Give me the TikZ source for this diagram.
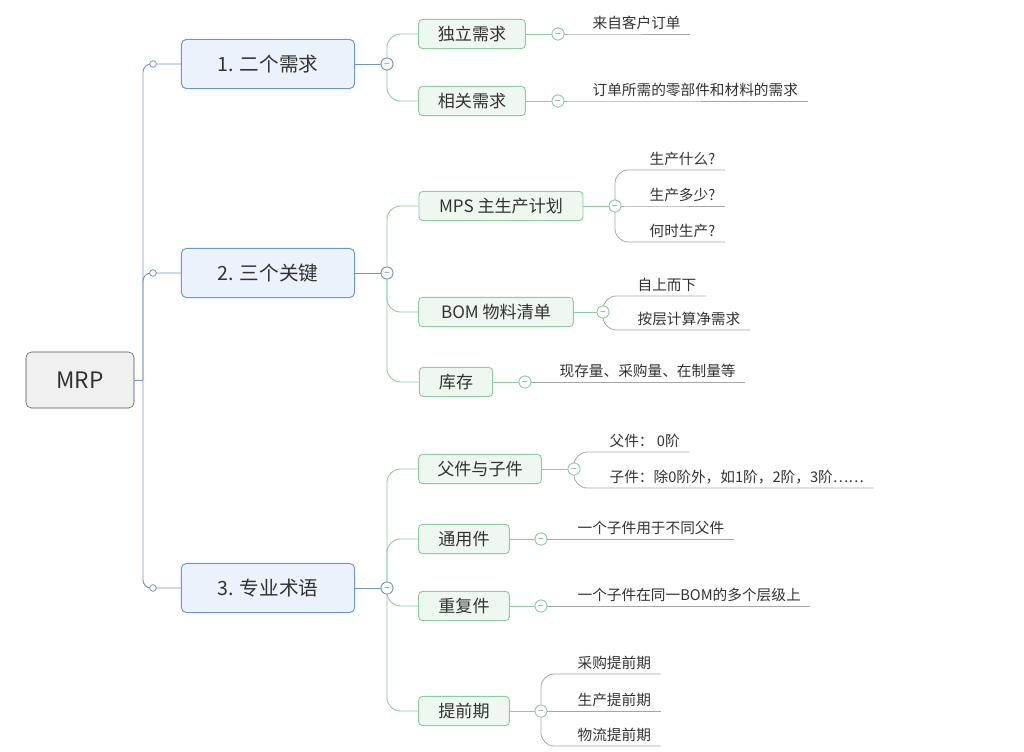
\documentclass[tikz,border=0pt]{standalone}
\usepackage{fontspec}
\setmainfont{Noto Sans CJK SC}
\definecolor{bline}{RGB}{110,150,200}
\definecolor{bfill}{RGB}{236,242,251}
\definecolor{gline}{RGB}{140,205,160}
\definecolor{gfill}{RGB}{238,247,240}
\definecolor{tx}{RGB}{50,50,50}
\begin{document}
\begin{tikzpicture}[x=0.75pt,y=-0.75pt,
  root/.style={draw=black!70,fill=black!6,rounded corners=4,minimum width=81pt,minimum height=42pt,font=\fontsize{17}{20}\selectfont,text=tx},
  l1/.style={draw=bline,fill=bfill,rounded corners=4,minimum width=130pt,minimum height=37pt,font=\fontsize{14.7}{17}\selectfont,text=tx,line width=0.7pt},
  l2/.style={draw=gline,fill=gfill,rounded corners=3,minimum height=22pt,inner xsep=10pt,font=\fontsize{12.8}{15}\selectfont,text=tx,line width=0.7pt},
  leaf/.style={anchor=south west,inner xsep=7pt,inner ysep=3pt,font=\fontsize{11}{13}\selectfont,text=tx},
  bl/.style={draw=bline,line width=0.7pt},
  gl/.style={draw=gline,line width=0.7pt,rounded corners=10},
  ll/.style={draw=black!35,line width=0.6pt,rounded corners=10},
  cb/.style={circle,draw=bline,fill=white,inner sep=0,minimum size=9pt,line width=0.6pt,font=\tiny,text=tx},
  cg/.style={circle,draw=gline,fill=white,inner sep=0,minimum size=9pt,line width=0.6pt,font=\tiny,text=tx},
  dot/.style={circle,draw=bline,fill=white,inner sep=0,minimum size=5pt,line width=0.6pt}]
\useasboundingbox (0,0) rectangle (1024,751);
\node[root] (mrp) at (80,380) {MRP};
\node[l1] (a) at (268,64) {1. 二个需求};
\node[l1] (b) at (268,273) {2. 三个关键};
\node[l1] (c) at (268,588) {3. 专业术语};
\coordinate (t) at (143,380);
\draw[bl] (mrp.east) -- (t);
\foreach \n/\y in {a/64,b/273,c/588}{
  \draw[bl,rounded corners=6] (t) |- (a.west |- 0,\y);
  \node[dot] at (153,\y) {};
}
\node[cb] (ca) at (387,64) {$-$};
\node[cb] (cb2) at (387,273) {$-$};
\node[cb] (cc) at (387,588) {$-$};
\draw[bl] (a.east)--(ca); \draw[bl] (b.east)--(cb2); \draw[bl] (c.east)--(cc);
% level 2
\node[l2,minimum width=80pt] (a1) at (472,34) {独立需求};
\node[l2,minimum width=80pt] (a2) at (472,101) {相关需求};
\node[l2,minimum width=123pt] (b1) at (501,206) {MPS 主生产计划};
\node[l2,minimum width=116pt] (b2) at (496,312) {BOM 物料清单};
\node[l2,minimum width=55pt] (b3) at (456,382) {库存};
\node[l2,minimum width=92pt] (c1) at (480,469) {父件与子件};
\node[l2,minimum width=68pt] (c2) at (464,539) {通用件};
\node[l2,minimum width=68pt] (c3) at (464,606) {重复件};
\node[l2,minimum width=68pt] (c4) at (464,711) {提前期};
\foreach \p/\k in {ca/a1,ca/a2,cb2/b1,cb2/b2,cb2/b3,cc/c1,cc/c2,cc/c3,cc/c4}
  \draw[gl] (\p) |- (\k.west);
\node[cb] at (ca) {$-$}; \node[cb] at (cb2) {$-$}; \node[cb] at (cc) {$-$};
\foreach \k/\x in {a1/558,a2/558,b1/615,b2/603,b3/525,c1/574,c2/541,c3/541,c4/541}{
  \draw[gl] (\k.east) -- (\x,0 |- \k.east);
}
\node[cg] (ka1) at (558,34) {$-$};
\node[cg] (ka2) at (558,101) {$-$};
\node[cg] (kb1) at (615,206) {$-$};
\node[cg] (kb2) at (603,312) {$-$};
\node[cg] (kb3) at (525,382) {$-$};
\node[cg] (kc1) at (574,469) {$-$};
\node[cg] (kc2) at (541,539) {$-$};
\node[cg] (kc3) at (541,606) {$-$};
\node[cg] (kc4) at (541,711) {$-$};
% leaves
\node[leaf] (la1) at (583,34) {来自客户订单};
\node[leaf] (la2) at (583,101) {订单所需的零部件和材料的需求};
\node[leaf] (lb1) at (640,170) {生产什么?};
\node[leaf] (lb2) at (640,206) {生产多少?};
\node[leaf] (lb3) at (640,242) {何时生产?};
\node[leaf] (lb4) at (628,296) {自上而下};
\node[leaf] (lb5) at (628,330) {按层计算净需求};
\node[leaf] (lb6) at (550,382) {现存量、采购量、在制量等};
\node[leaf] (lc1) at (600,452) {父件：\ 0阶};
\node[leaf] (lc2) at (600,488) {子件：除0阶外，如1阶，2阶，3阶……};
\node[leaf] (lc3) at (568,539) {一个子件用于不同父件};
\node[leaf] (lc4) at (568,606) {一个子件在同一BOM的多个层级上};
\node[leaf] (lc5) at (568,674) {采购提前期};
\node[leaf] (lc6) at (568,711) {生产提前期};
\node[leaf] (lc7) at (568,746) {物流提前期};
\foreach \k/\l in {kb1/lb1,kb1/lb3,kb2/lb4,kb2/lb5,kc1/lc1,kc1/lc2,kc4/lc5,kc4/lc7}
  \draw[ll] (\k) |- (\l.south west) -- (\l.south east);
\foreach \k/\l in {ka1/la1,ka2/la2,kb1/lb2,kb3/lb6,kc2/lc3,kc3/lc4,kc4/lc6}
  \draw[ll] (\k) -- (\l.south west) -- (\l.south east);
\foreach \k in {ka1,ka2,kb1,kb2,kb3,kc1,kc2,kc3,kc4} \node[cg] at (\k) {$-$};
\end{tikzpicture}
\end{document}
